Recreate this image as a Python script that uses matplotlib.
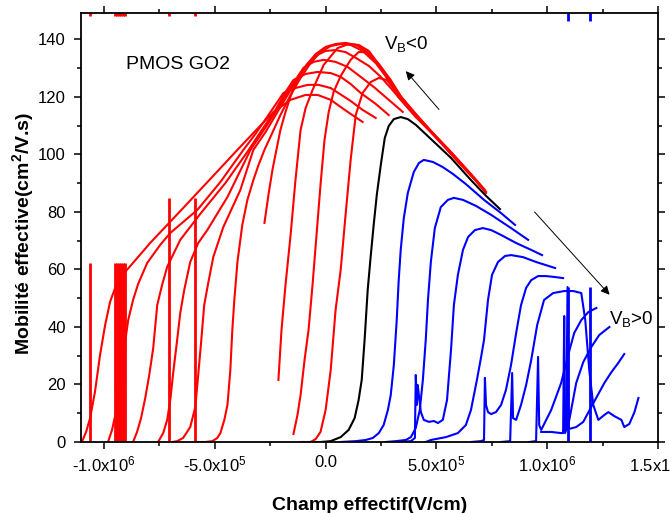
import matplotlib
matplotlib.use("Agg")
import matplotlib.pyplot as plt
from matplotlib.ticker import MultipleLocator

plt.rcParams['font.family'] = ['Liberation Sans', 'DejaVu Sans']
plt.rcParams['mathtext.default'] = 'regular'

E_UNIT = 1e5  # x values below are in units of 1e5 V/cm

# ---- V_B < 0 (red) ----
r1_x = [-11.00, -10.81, -10.63, -10.41, -10.18, -9.95, -9.73, -9.50, -9.28, -9.05, -7.92, -6.56, -5.20, -3.98, -3.17, -2.35, -1.58, -0.90, -0.36, 0.23, 0.68, 1.13, 1.67]
r1_y = [0, 3.5, 8.3, 17.4, 30.3, 40.7, 48.7, 53.6, 56.7, 59.1, 69.2, 80.3, 91.5, 101.6, 108.2, 114.8, 119.0, 120.7, 120.7, 119.0, 116.5, 114.1, 111.3]

r2_x = [-9.82, -9.64, -9.46, -9.28, -9.10, -8.91, -8.69, -8.46, -8.05, -7.47, -7.01, -5.79, -4.75, -3.71, -3.17, -2.58, -1.90, -1.36, -0.81, -0.32, 0.23, 1.13, 1.67, 2.26]
r2_y = [0, 4.2, 10.4, 19.8, 32.0, 42.4, 49.4, 55.0, 62.3, 68.5, 72.7, 80.7, 90.4, 101.6, 107.1, 113.7, 121.4, 123.1, 124.2, 124.2, 123.1, 118.6, 115.5, 112.7]

r3_x = [-8.69, -8.51, -8.33, -8.14, -7.96, -7.78, -7.60, -7.38, -7.15, -6.56, -5.66, -4.52, -3.53, -2.94, -2.26, -1.81, -1.45, -0.90, -0.36, 0.23, 0.68, 1.13, 1.58, 2.26, 2.85]
r3_y = [0, 3.5, 8.3, 15.3, 23.3, 32.7, 47.6, 54.6, 60.9, 70.3, 79.3, 90.1, 100.9, 107.8, 115.5, 121.7, 125.9, 128.0, 128.7, 128.3, 127.0, 124.5, 121.4, 117.6, 113.7]

r4_x = [-7.56, -7.33, -7.15, -7.01, -6.88, -6.70, -6.56, -6.38, -6.11, -5.75, -5.34, -4.43, -3.39, -2.85, -2.26, -1.72, -1.36, -1.00, -0.54, -0.09, 0.45, 1.00, 1.58, 2.17, 2.85, 3.48]
r4_y = [0, 3.1, 7.7, 14.6, 24.0, 35.5, 44.9, 52.9, 62.6, 69.2, 73.7, 85.2, 101.6, 107.8, 114.8, 121.7, 125.9, 130.1, 132.2, 132.9, 132.2, 130.4, 127.0, 123.5, 119.0, 114.8]

r5_x = [-6.92, -6.70, -6.43, -6.11, -5.88, -5.75, -5.61, -5.48, -5.29, -5.07, -4.62, -3.85, -3.26, -2.71, -2.17, -1.58, -1.13, -0.81, -0.45, 0.00, 0.45, 0.90, 1.36, 1.95, 2.49, 2.94, 3.39, 4.07, 4.75, 5.66, 6.56, 7.10]
r5_y = [0, 0.3, 1.4, 5.2, 12.2, 23.3, 35.5, 47.6, 55.6, 64.3, 74.7, 87.6, 101.6, 107.8, 114.8, 122.4, 128.0, 131.5, 134.3, 136.0, 136.3, 135.6, 133.6, 130.8, 127.0, 123.1, 119.0, 113.0, 107.8, 100.5, 92.9, 88.0]

r6_x = [-5.88, -5.43, -5.11, -4.89, -4.75, -4.57, -4.43, -4.30, -4.21, -4.12, -3.98, -3.76, -3.53, -3.26, -3.03, -2.76, -2.49, -2.04, -1.58, -1.13, -0.68, -0.23, 0.23, 0.68, 1.13, 1.67, 2.26, 2.85, 3.39, 4.07, 4.75, 5.66, 6.56, 7.15]
r6_y = [0, 0, 0.3, 1.4, 3.1, 7.7, 12.9, 25.0, 39.0, 49.4, 62.6, 75.5, 84.2, 91.1, 96.3, 101.6, 106.1, 113.7, 120.7, 126.6, 131.8, 135.6, 137.7, 138.4, 138.1, 136.0, 131.8, 125.9, 119.3, 113.7, 108.2, 100.9, 93.2, 88.0]

r7_x = [-2.76, -2.58, -2.40, -2.22, -2.04, -1.81, -1.58, -1.27, -0.90, -0.45, 0.00, 0.45, 0.90, 1.36, 1.81, 2.40, 2.94, 3.39, 4.07, 4.75, 5.66, 6.56, 7.19]
r7_y = [76.2, 85.9, 94.6, 101.6, 108.5, 114.8, 120.3, 125.9, 130.8, 134.9, 137.4, 138.4, 138.8, 138.1, 136.0, 131.5, 125.9, 120.3, 114.1, 108.2, 100.5, 92.9, 87.3]

r8_x = [-2.13, -1.99, -1.81, -1.58, -1.36, -1.13, -0.90, -0.59, -0.09, 0.54, 1.04, 1.49, 1.95, 2.49, 3.03, 3.62, 4.30, 4.98, 5.88, 6.79, 7.24]
r8_y = [21.6, 39.0, 54.6, 72.0, 91.1, 108.5, 116.2, 122.4, 131.1, 137.0, 138.4, 138.1, 136.0, 130.4, 124.2, 117.6, 111.6, 106.1, 98.8, 91.1, 87.0]

r9_x = [-1.45, -1.27, -1.13, -0.95, -0.77, -0.59, -0.41, -0.23, -0.05, 0.14, 0.36, 0.68, 1.13, 1.49, 1.86, 2.26, 2.71, 3.26, 3.85, 4.52, 5.20, 6.11, 6.79, 7.19]
r9_y = [2.8, 9.4, 16.3, 28.5, 39.0, 54.6, 72.0, 89.4, 105.0, 114.8, 121.7, 127.3, 132.9, 135.6, 135.6, 132.2, 127.3, 120.3, 115.1, 109.6, 104.0, 96.3, 90.8, 87.6]

r10_x = [-1.13, -0.68, -0.45, -0.23, 0.00, 0.23, 0.45, 0.68, 0.90, 1.13, 1.36, 1.67, 2.04, 2.40, 2.76, 3.17, 3.62, 4.30, 4.98, 5.88, 6.79, 7.24]
r10_y = [0, 0, 1.0, 3.5, 11.1, 25.0, 45.9, 59.8, 78.9, 98.1, 113.7, 121.4, 125.2, 126.6, 125.9, 122.4, 117.9, 112.0, 106.1, 98.4, 90.8, 86.6]

# ---- V_B = 0 (black) ----
k_x = [-0.68, -0.23, 0.23, 0.68, 1.04, 1.31, 1.49, 1.63, 1.76, 1.90, 2.04, 2.17, 2.31, 2.49, 2.67, 2.85, 3.08, 3.39, 3.71, 4.07, 4.75, 5.66, 6.56, 7.24, 7.87]
k_y = [0, 0, 0.3, 1.7, 4.2, 8.3, 14.6, 21.6, 35.5, 52.9, 65.0, 75.5, 85.9, 96.3, 105.7, 109.9, 112.3, 113.0, 112.3, 110.3, 105.4, 98.8, 91.1, 85.6, 81.0]

# ---- V_B > 0 (blue) ----
b1_x = [0.68, 1.36, 1.81, 2.13, 2.40, 2.62, 2.81, 2.94, 3.08, 3.21, 3.30, 3.39, 3.53, 3.71, 3.98, 4.21, 4.43, 4.84, 5.29, 5.75, 6.33, 7.15, 7.92, 8.55]
b1_y = [0, 0.3, 0.7, 1.4, 3.1, 5.9, 11.1, 16.3, 26.8, 42.4, 56.3, 66.8, 77.9, 86.6, 93.9, 97.0, 98.1, 97.4, 95.6, 93.2, 89.7, 84.2, 79.6, 75.5]

b2_x = [2.71, 3.17, 3.62, 3.85, 4.07, 4.25, 4.39, 4.52, 4.62, 4.75, 4.93, 5.20, 5.52, 5.79, 6.20, 6.79, 7.47, 8.37, 9.14]
b2_y = [0, 0.3, 0.7, 1.7, 4.9, 11.1, 21.6, 35.5, 49.4, 62.6, 74.4, 81.7, 84.2, 84.9, 84.2, 82.1, 79.0, 74.4, 70.3]

b3_x = [3.39, 3.85, 4.03, 4.07, 4.12, 4.16, 4.21, 4.30, 4.43, 4.66, 4.89, 5.07, 5.29, 5.48, 5.66, 5.79, 5.97, 6.20, 6.43, 6.74, 7.10, 7.47, 7.92, 8.60, 9.28, 9.77]
b3_y = [0, 0.3, 1.4, 23.3, 12.9, 19.8, 16.3, 10.4, 7.7, 7.0, 7.3, 6.6, 7.7, 14.6, 32.0, 47.6, 58.1, 66.8, 71.3, 73.7, 74.4, 73.7, 72.0, 69.2, 66.8, 65.0]

b4_x = [4.52, 4.75, 5.43, 5.97, 6.33, 6.56, 6.83, 7.01, 7.15, 7.33, 7.51, 7.78, 8.10, 8.37, 8.91, 9.50, 10.36]
b4_y = [0, 0.7, 1.7, 3.1, 5.9, 11.1, 21.6, 29.2, 35.5, 49.4, 58.1, 62.6, 64.7, 65.0, 64.3, 62.6, 60.5]

b5_x = [6.56, 7.01, 7.15, 7.19, 7.24, 7.33, 7.47, 7.69, 7.92, 8.14, 8.37, 8.60, 8.82, 9.05, 9.28, 9.59, 9.95, 10.32, 10.72]
b5_y = [0, 0.3, 0.7, 22.3, 12.9, 10.4, 9.7, 10.4, 12.9, 18.1, 26.8, 37.9, 47.6, 53.6, 56.3, 57.7, 57.7, 57.4, 57.0]

b6_x = [7.92, 8.33, 8.42, 8.46, 8.60, 8.82, 9.05, 9.28, 9.55, 9.86, 10.27, 10.77, 11.18, 11.54, 11.72, 11.90, 12.08, 12.31, 12.58, 12.76, 13.03, 13.35, 13.48, 13.71, 13.94, 14.12]
b6_y = [0, 0.3, 24.0, 8.3, 7.7, 12.9, 19.8, 28.5, 40.7, 49.4, 51.8, 52.5, 52.5, 51.8, 42.4, 25.0, 12.9, 7.7, 9.4, 10.4, 9.0, 7.7, 5.2, 6.3, 10.4, 15.3]

b7_x = [9.19, 9.50, 9.59, 9.64, 9.73, 10.18, 10.63, 10.95, 11.22, 11.54, 11.86, 12.22]
b7_y = [0, 0.3, 29.6, 5.9, 4.2, 11.1, 20.5, 30.3, 37.9, 42.4, 45.2, 46.6]

b8_x = [9.73, 10.18, 10.63, 10.72, 10.77, 10.81, 11.00, 11.31, 11.63, 11.99, 12.35, 12.81]
b8_y = [3.5, 3.5, 3.1, 3.1, 43.8, 3.1, 7.7, 20.5, 27.8, 33.0, 37.2, 40.0]

b9_x = [10.72, 10.86, 10.92, 10.97, 11.31, 11.63, 11.99, 12.31, 12.58, 12.90, 13.21, 13.48]
b9_y = [3.8, 4.2, 53.9, 4.5, 5.2, 7.0, 12.2, 16.7, 20.5, 24.3, 27.5, 30.6]

# isolated spikes (some run off the top of the scale)
red_spike_x = [-10.63, -9.50, -9.41, -9.32, -9.23, -9.14, -9.05, -7.06, -5.88]
red_spike_top = [62.4, 62.4, 62.4, 62.4, 62.4, 62.4, 62.4, 84.9, 84.9]
blue_spike_x = [10.95, 11.95]
blue_spike_top = [53.9, 53.9]

red_curves = [(r1_x, r1_y), (r2_x, r2_y), (r3_x, r3_y), (r4_x, r4_y), (r5_x, r5_y),
              (r6_x, r6_y), (r7_x, r7_y), (r8_x, r8_y), (r9_x, r9_y), (r10_x, r10_y)]
blue_curves = [(b1_x, b1_y), (b2_x, b2_y), (b3_x, b3_y), (b4_x, b4_y), (b5_x, b5_y),
               (b6_x, b6_y), (b7_x, b7_y), (b8_x, b8_y), (b9_x, b9_y)]

up_arrow = [(5.20, 114.9), (3.54, 129.7)]      # tail, head
down_arrow = [(9.35, 80.7), (12.90, 50.5)]

fig = plt.figure(figsize=(6.7, 5.13), dpi=100)
ax = fig.add_axes([0.1209, 0.1384, 0.8611, 0.8363])

LW = 1.5
for xs, ys in red_curves:
    ax.plot([v * E_UNIT for v in xs], ys, color='#ff0000', lw=LW)
ax.plot([v * E_UNIT for v in k_x], k_y, color='black', lw=LW)
for xs, ys in blue_curves:
    ax.plot([v * E_UNIT for v in xs], ys, color='#0000ff', lw=LW)

ax.vlines([v * E_UNIT for v in red_spike_x], 0, red_spike_top, color='#ff0000', lw=2)
ax.vlines([v * E_UNIT for v in red_spike_x], 148.3, 160, color='#ff0000', lw=2)
ax.vlines([v * E_UNIT for v in blue_spike_x], 0, blue_spike_top, color='#0000ff', lw=2)
ax.vlines([v * E_UNIT for v in blue_spike_x], 146.5, 160, color='#0000ff', lw=2)

for tail, head in (up_arrow, down_arrow):
    ax.annotate('', xy=(head[0] * E_UNIT, head[1]), xytext=(tail[0] * E_UNIT, tail[1]),
                arrowprops=dict(arrowstyle='-|>', color='black', lw=0.7, mutation_scale=13))

ax.text(-9.0 * E_UNIT, 129.7, 'PMOS GO2', fontsize=14, va='baseline', ha='left')
ax.text(2.62 * E_UNIT, 136.6, 'V$_B$<0', fontsize=13.5, va='baseline', ha='left')
ax.text(12.81 * E_UNIT, 41.0, 'V$_B$>0', fontsize=13.5, va='baseline', ha='left')

ax.set_xlim(-11.04 * E_UNIT, 15 * E_UNIT)
ax.set_ylim(0, 149.2)

xticks = [-1e6, -5e5, 0, 5e5, 1e6, 1.5e6]
xlabels = ['-1.0x10$^{6}$', '-5.0x10$^{5}$', '0.0', '5.0x10$^{5}$', '1.0x10$^{6}$', '1.5x10$^{6}$']
ax.set_xticks(xticks)
ax.set_xticklabels(xlabels)
ax.xaxis.set_minor_locator(MultipleLocator(2.5e5))
ax.yaxis.set_major_locator(MultipleLocator(20))
ax.yaxis.set_minor_locator(MultipleLocator(10))

ax.tick_params(which='both', direction='out', top=True, right=True, width=1.1, labelsize=12)
ax.tick_params(which='major', length=5)
ax.tick_params(which='minor', length=3)
ax.tick_params(axis='x', pad=4)
ax.tick_params(axis='y', pad=6)
for s in ax.spines.values():
    s.set_linewidth(1.3)

ax.set_xlabel('Champ effectif(V/cm)', fontsize=14, fontweight='bold', labelpad=16)
ax.set_ylabel('Mobilité effective(cm$^{2}$/V.s)', fontsize=14, fontweight='bold')
ax.yaxis.set_label_coords(-0.078, 0.487)

fig.savefig('out.png', dpi=100)
